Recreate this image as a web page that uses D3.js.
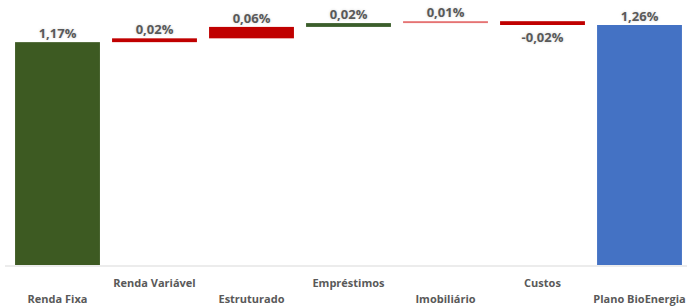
<!DOCTYPE html>
<html>
<head>
  <meta charset="utf-8">
  <script src="https://d3js.org/d3.v7.min.js"></script>
  <style>
    body { margin: 0; background: #fff; }
    .val { font-family: "Open Sans", sans-serif; font-weight: 700; font-size: 13px; fill: #595959;
           text-shadow: 0 0 3px rgba(0,0,0,0.18); }
    .cat { font-family: "Open Sans", sans-serif; font-weight: 700; font-size: 11px; fill: #595959; }
  </style>
</head>
<body>
<div id="chart"></div>
<script>
// waterfall data
const categories = ["Renda Fixa", "Renda Variável", "Estruturado", "Empréstimos", "Imobiliário", "Custos", "Plano BioEnergia"];
const values = [1.17, 0.02, 0.06, 0.02, 0.01, -0.02, 1.26];
const kinds = ["start", "delta", "delta", "delta", "delta", "delta", "total"];
const labels = ["1,17%", "0,02%", "0,06%", "0,02%", "0,01%", "-0,02%", "1,26%"];
const colors = ["#3d5a22", "#c00000", "#c00000", "#3b5e2b", "#e57373", "#c00000", "#4472c4"];

const W = 687, H = 306;
const svg = d3.select("#chart").append("svg").attr("width", W).attr("height", H);

// compute bar extents
let run = 0;
const bars = categories.map((c, i) => {
  let lo, hi;
  if (kinds[i] === "delta") {
    lo = Math.min(run, run + values[i]);
    hi = Math.max(run, run + values[i]);
    run += values[i];
  } else {
    lo = 0; hi = values[i]; run = values[i];
  }
  return { cat: c, lo, hi, v: values[i], label: labels[i], color: colors[i] };
});

const x = d3.scaleBand().domain(categories).range([9, 688]).paddingInner(0.125).paddingOuter(0.0625);
const y = d3.scaleLinear().domain([0, 1.26]).range([265, 25]);

// baseline
svg.append("line")
  .attr("x1", 5).attr("x2", W).attr("y1", y(0) + 1).attr("y2", y(0) + 1)
  .attr("stroke", "#d9d9d9").attr("stroke-width", 1);

svg.selectAll("rect.bar").data(bars).enter().append("rect")
  .attr("class", "bar")
  .attr("x", d => x(d.cat))
  .attr("width", x.bandwidth())
  .attr("y", d => y(d.hi))
  .attr("height", d => Math.max(1.5, y(d.lo) - y(d.hi)))
  .attr("fill", d => d.color);

svg.selectAll("text.val").data(bars).enter().append("text")
  .attr("class", "val")
  .attr("x", d => x(d.cat) + x.bandwidth() / 2)
  .attr("y", d => d.v < 0 ? y(d.lo) + 17 : y(d.hi) - 4)
  .attr("text-anchor", "middle")
  .text(d => d.label);

svg.selectAll("text.cat").data(categories).enter().append("text")
  .attr("class", "cat")
  .attr("x", d => x(d) + x.bandwidth() / 2)
  .attr("y", (d, i) => i % 2 === 0 ? 303 : 287)
  .attr("text-anchor", "middle")
  .text(d => d);
</script>
</body>
</html>
